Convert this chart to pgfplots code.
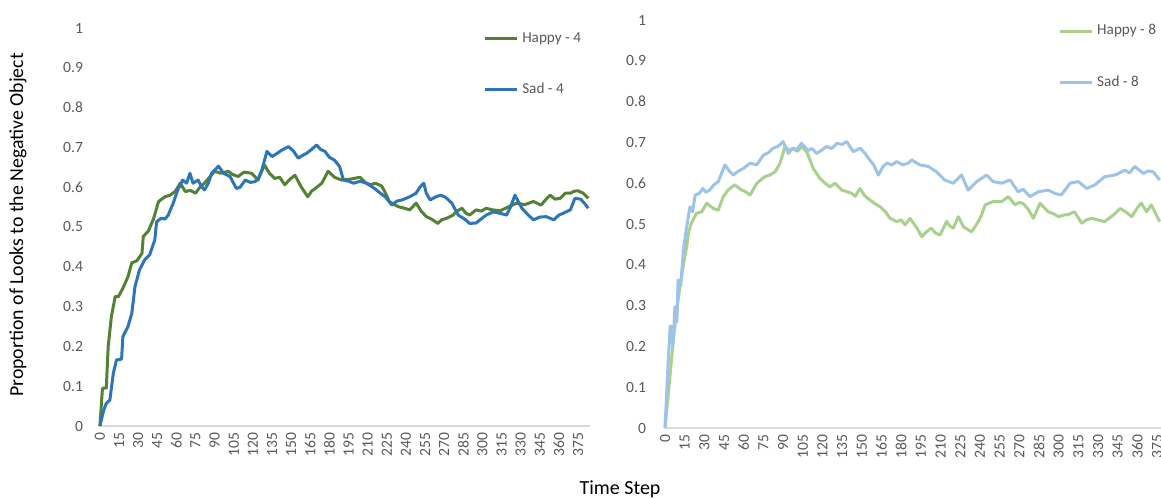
\documentclass[border=0pt]{standalone}
\usepackage{fontspec}
\setmainfont{Carlito}
\usepackage{pgfplots}
\pgfplotsset{compat=1.18}
\definecolor{hap4}{HTML}{548235}
\definecolor{sad4}{HTML}{2E75B6}
\definecolor{hap8}{HTML}{A9D18E}
\definecolor{sad8}{HTML}{9DC3E6}
\definecolor{tickgray}{HTML}{595959}
\pgfplotsset{mystyle/.style={
  scale only axis, anchor=south west,
  ymin=0, ymax=1,
  ytick={0,0.1,0.2,0.3,0.4,0.5,0.6,0.7,0.8,0.9,1},
  xtick={0,15,...,375},
  axis lines=left,
  x axis line style={-, draw=black!15, line width=0.7pt},
  y axis line style={draw=none},
  major tick length=0pt,
  /pgf/number format/assume math mode=true,
  tick label style={font=\fontsize{7.8}{9}\selectfont, text=tickgray},
  xticklabel style={rotate=90, anchor=east, xshift=0pt},
  legend style={draw=none, fill=none, inner sep=0pt, row sep=15pt,
    font=\fontsize{7.6}{9}\selectfont, text=tickgray, cells={anchor=west},
    anchor=north west},
  legend image code/.code={\draw[#1, line width=1.5pt] (0pt,0pt) -- (16pt,0pt);},
  every axis plot/.append style={line width=1.5pt, line join=round, mark=none},
  clip=false,
}}
\begin{document}
\begin{tikzpicture}
\useasboundingbox (0,0) rectangle (580.5pt,249pt);
\begin{axis}[mystyle, at={(49pt,36pt)}, width=245.75pt, height=199pt,
  xmin=-1.5, xmax=384,
  yticklabel style={xshift=-4pt},
  legend style={at={(0.783,1.0)}}]
\addplot[hap4] coordinates {(0,0) (2,0.095) (5,0.095) (6.5,0.2) (9,0.275) (12,0.325) (14.5,0.325) (18,0.346) (22,0.375) (25,0.41) (29,0.415) (33,0.434) (34,0.476) (38,0.49) (42,0.52) (46,0.564) (51,0.576) (55,0.58) (59,0.589) (63,0.61) (67,0.589) (71,0.592) (75,0.585) (78,0.598) (82,0.61) (86,0.625) (90,0.64) (95,0.635) (100.6,0.64) (104,0.632) (108.5,0.627) (113,0.638) (119,0.635) (124,0.618) (129,0.656) (133,0.635) (137,0.622) (141,0.625) (145,0.606) (149,0.62) (153,0.63) (158,0.6) (163,0.576) (166,0.59) (169,0.597) (174,0.61) (179,0.64) (184,0.625) (189.5,0.618) (196,0.62) (204,0.625) (208,0.612) (212,0.606) (216,0.61) (221,0.603) (224,0.585) (227,0.564) (231,0.556) (234,0.551) (238,0.548) (243,0.543) (248,0.56) (252,0.54) (256,0.526) (260,0.52) (265,0.509) (268,0.518) (272,0.522) (277,0.53) (280,0.54) (284,0.547) (287,0.535) (290,0.53) (295,0.543) (299,0.54) (303,0.547) (308,0.543) (314,0.541) (320,0.55) (327,0.56) (333,0.556) (340,0.564) (346,0.555) (350,0.57) (353,0.58) (357,0.57) (361,0.572) (365,0.585) (369,0.585) (372,0.59) (375,0.591) (379,0.585) (383,0.572)};
\addlegendentry{Happy - 4}
\addplot[sad4] coordinates {(0,0) (3,0.04) (5,0.057) (7.8,0.065) (10.5,0.132) (13,0.166) (17,0.168) (18,0.224) (22,0.25) (25,0.283) (27.5,0.35) (31,0.392) (35,0.417) (39,0.43) (43,0.467) (44.5,0.513) (48,0.522) (51,0.52) (53.6,0.53) (57.5,0.56) (61,0.593) (65,0.618) (68,0.61) (70.6,0.635) (73,0.61) (77,0.618) (80,0.6) (82,0.593) (85,0.61) (87.6,0.635) (93,0.653) (97,0.635) (102,0.627) (107,0.597) (110,0.6) (114,0.618) (118,0.612) (121.6,0.614) (124,0.62) (127,0.643) (131,0.69) (135,0.677) (139,0.685) (142.5,0.693) (148,0.702) (152,0.69) (155.5,0.673) (159,0.68) (162,0.685) (166,0.695) (170,0.706) (173,0.695) (176.5,0.69) (180,0.675) (184,0.668) (188,0.652) (191,0.618) (195,0.615) (199,0.61) (204,0.615) (209,0.61) (214,0.6) (220,0.585) (224,0.575) (229,0.555) (233,0.565) (237,0.568) (243,0.576) (248,0.585) (251,0.6) (254,0.61) (256,0.585) (259,0.568) (263,0.575) (267,0.58) (271,0.575) (276,0.56) (281,0.53) (286,0.52) (290,0.509) (295,0.51) (299,0.52) (303,0.53) (308.5,0.538) (313,0.535) (319,0.53) (322,0.55) (325.5,0.58) (328,0.565) (331,0.547) (336,0.53) (340,0.518) (345,0.525) (350,0.526) (356,0.518) (360,0.53) (363,0.534) (369,0.543) (372.5,0.572) (377,0.57) (380,0.56) (383,0.547)};
\addlegendentry{Sad - 4}
\end{axis}
\begin{axis}[mystyle, at={(332.5pt,35pt)}, width=248pt, height=204pt,
  xmin=0, xmax=378,
  yticklabel style={xshift=-6pt},
  legend style={at={(0.792,1.0)}}]
\addplot[hap8] coordinates {(0,0) (3,0.1) (6.3,0.216) (9,0.29) (11.4,0.346) (14,0.4) (16.5,0.444) (18,0.48) (20,0.502) (24,0.526) (28,0.53) (31.8,0.551) (36.8,0.538) (40.6,0.534) (44.4,0.567) (48,0.583) (53,0.596) (58.5,0.583) (61,0.58) (64.8,0.571) (70,0.6) (76,0.616) (80,0.62) (84,0.628) (87.6,0.649) (91.5,0.69) (95,0.68) (97.8,0.686) (101,0.678) (104,0.69) (108,0.677) (113,0.636) (118,0.612) (122,0.6) (125.8,0.591) (129.5,0.6) (134.7,0.583) (138,0.58) (142.3,0.575) (145,0.568) (148.6,0.587) (152,0.57) (156,0.559) (160,0.55) (164,0.542) (168,0.53) (171.5,0.514) (176.6,0.506) (180,0.51) (183,0.498) (186.7,0.514) (188,0.508) (192,0.49) (195.6,0.469) (199,0.48) (203,0.49) (206,0.478) (209.6,0.473) (214.7,0.506) (217,0.495) (219.7,0.49) (223.5,0.518) (227.4,0.493) (233.7,0.481) (238.8,0.506) (241,0.52) (244,0.547) (250,0.555) (256.6,0.555) (261.7,0.567) (266.8,0.547) (270,0.553) (273,0.55) (277,0.535) (280.7,0.514) (285.8,0.551) (289,0.54) (292,0.53) (296,0.525) (300,0.518) (304,0.522) (307,0.523) (312,0.53) (317.6,0.502) (321,0.51) (325,0.514) (330,0.51) (335,0.506) (341.7,0.522) (346.8,0.538) (351,0.53) (355.7,0.518) (360,0.54) (363,0.551) (367,0.53) (370.6,0.547) (374,0.525) (377,0.506)};
\addlegendentry{Happy - 8}
\addplot[sad8] coordinates {(0,0) (2.5,0.167) (4,0.25) (5,0.248) (6,0.2) (7.6,0.297) (9,0.26) (10,0.363) (12,0.35) (14,0.436) (16.5,0.493) (19,0.542) (21,0.53) (23,0.571) (26,0.575) (29,0.587) (31,0.578) (34,0.583) (37,0.595) (40.6,0.604) (45.7,0.645) (49,0.63) (52,0.62) (56,0.63) (59.7,0.636) (64.8,0.649) (70,0.645) (75,0.669) (79,0.675) (82.5,0.686) (86,0.69) (90,0.702) (94,0.673) (97,0.685) (100,0.68) (104,0.698) (109,0.68) (112,0.685) (115.6,0.673) (119,0.68) (123,0.69) (127,0.685) (131,0.698) (135,0.695) (138.5,0.702) (143.5,0.677) (148.6,0.686) (152,0.675) (156,0.657) (159,0.645) (162.6,0.62) (166,0.64) (169,0.649) (173,0.645) (176.6,0.653) (181,0.645) (185.4,0.649) (188,0.657) (194,0.645) (200.7,0.641) (207,0.628) (213,0.608) (219.7,0.6) (226,0.62) (231,0.583) (237.6,0.604) (245,0.62) (250,0.604) (256.6,0.6) (263,0.608) (269,0.579) (273,0.585) (278,0.567) (284.5,0.579) (292,0.583) (297,0.575) (302,0.571) (308.7,0.6) (315,0.604) (321.4,0.587) (327.7,0.596) (335,0.616) (343,0.62) (350.6,0.632) (354,0.625) (358,0.641) (364.6,0.624) (368,0.63) (372,0.628) (377,0.608)};
\addlegendentry{Sad - 8}
\end{axis}
\node[rotate=90, font=\fontsize{9.9}{12}\selectfont] at (9pt,136.5pt) {Proportion of Looks to the Negative Object};
\node[font=\fontsize{10}{12}\selectfont] at (310pt,4.5pt) {Time Step};
\end{tikzpicture}
\end{document}
